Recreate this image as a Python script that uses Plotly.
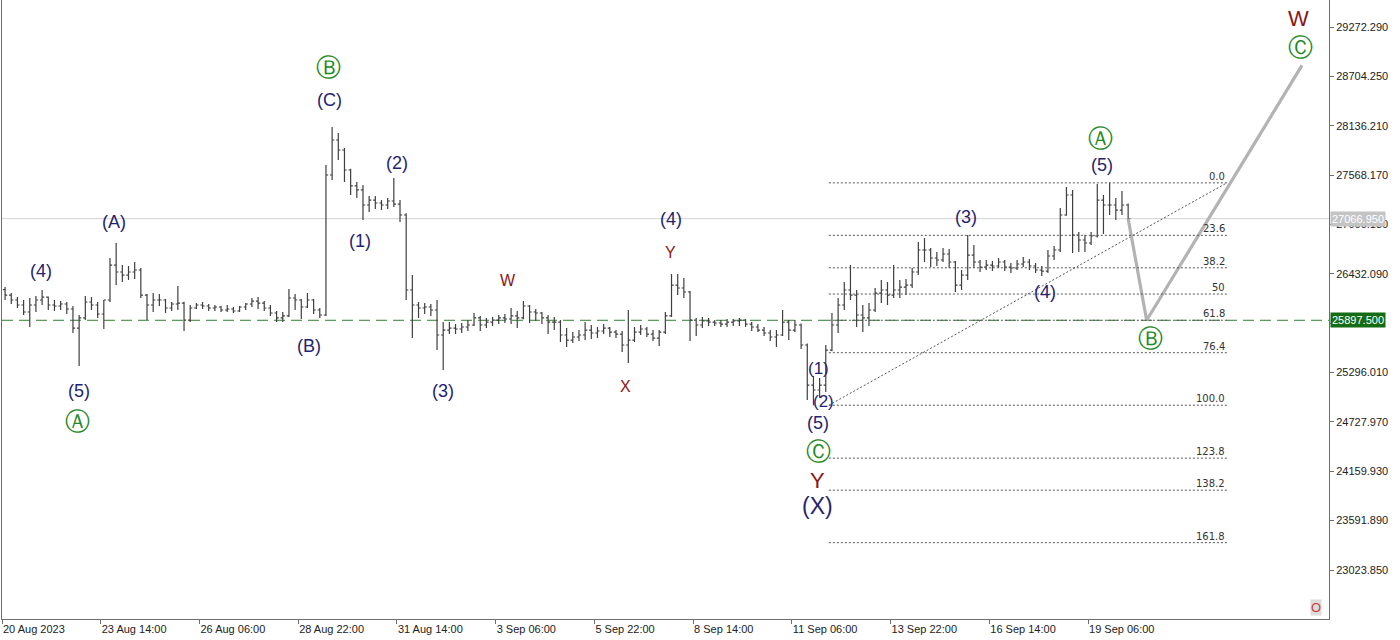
import plotly.graph_objects as go
import pandas as pd

# ---------------- data (BTCUSD, 4h bars) ----------------
bar_start = "2023-08-21 00:00"
first_open = 26250

highs = [26280, 26211, 26165, 26131, 26154, 26177, 26246, 26170, 26131, 26119,
         26108, 26062, 25958, 26177, 26165, 26108, 26131, 26614, 26787, 26533,
         26522, 26568, 26499, 26200, 26211, 26200, 26142, 26108, 26292, 26110,
         26073, 26096, 26108, 26085, 26073, 26062, 26073, 26050, 26062, 26096,
         26154, 26165, 26119, 26073, 26004, 25993, 26257, 26200, 26142, 26211,
         26142, 26039, 27684, 28121, 28052, 27880, 27640, 27489, 27454, 27327,
         27327, 27281, 27304, 27535, 27281, 27130, 26418, 26108, 26096, 26085,
         26131, 25877, 25877, 25854, 25866, 25900, 25981, 25947, 25924, 25935,
         25958, 25970, 26039, 26004, 26119, 26073, 26027, 25993, 25958, 25935,
         25900, 25808, 25762, 25785, 25877, 25843, 25820, 25854, 25820, 25785,
         25774, 26016, 25820, 25843, 25820, 25785, 25785, 25993, 26430, 26430,
         26384, 26235, 25924, 25935, 25924, 25900, 25900, 25912, 25912, 25924,
         25912, 25877, 25854, 25820, 25785, 25785, 26016, 25900, 25900, 25860,
         25630, 25256, 25233, 25613, 25981, 26154, 26338, 26533, 26246, 26073,
         26096, 26269, 26361, 26338, 26533, 26361, 26372, 26499, 26798, 26844,
         26729, 26683, 26729, 26718, 26580, 26476, 26879, 26764, 26591, 26591,
         26579, 26614, 26591, 26556, 26591, 26625, 26602, 26556, 26522, 26706,
         26752, 27189, 27431, 27397, 26913, 26879, 26913, 27466, 27339, 27479,
         27304, 27385, 27240]

lows = [26131, 26085, 26039, 25958, 25820, 25993, 26073, 26016, 26004, 26016,
        25970, 25751, 25371, 25900, 26016, 25924, 25797, 26108, 26303, 26338,
        26361, 26372, 26154, 25900, 25993, 26062, 25981, 26004, 26016, 25774,
        25877, 26027, 26027, 26004, 26004, 25993, 25993, 25981, 25993, 26016,
        26050, 26027, 26004, 25947, 25877, 25877, 25935, 26016, 25912, 26039,
        25970, 25924, 25947, 27512, 27742, 27489, 27339, 27304, 27051, 27143,
        27178, 27166, 27178, 27201, 27028, 26131, 25693, 25924, 25970, 25947,
        25555, 25325, 25739, 25739, 25751, 25774, 25831, 25774, 25808, 25831,
        25854, 25866, 25854, 25808, 25910, 25866, 25889, 25854, 25739, 25785,
        25647, 25590, 25636, 25659, 25670, 25682, 25693, 25739, 25705, 25693,
        25532, 25406, 25647, 25728, 25705, 25659, 25601, 25739, 25935, 26188,
        26154, 25659, 25716, 25808, 25831, 25831, 25820, 25820, 25831, 25831,
        25820, 25774, 25762, 25716, 25659, 25590, 25716, 25670, 25762, 25567,
        24980, 24920, 25003, 25072, 25540, 25751, 26016, 26131, 25820, 25762,
        25831, 25993, 26096, 26073, 26154, 26154, 26188, 26269, 26418, 26568,
        26510, 26522, 26568, 26499, 26223, 26246, 26361, 26499, 26453, 26476,
        26464, 26499, 26464, 26441, 26476, 26510, 26476, 26441, 26407, 26441,
        26591, 26683, 27100, 26671, 26683, 26683, 26764, 26850, 26890, 27109,
        27051, 27109, 27050]

closes = [26188, 26131, 26073, 25993, 26073, 26131, 26165, 26073, 26062, 26085,
          26027, 25808, 25924, 26108, 26073, 25970, 26131, 26533, 26453, 26418,
          26453, 26476, 26188, 26073, 26131, 26131, 26039, 26085, 26096, 25900,
          26039, 26073, 26062, 26039, 26050, 26016, 26027, 26004, 26050, 26085,
          26119, 26096, 26039, 25981, 25924, 25947, 26154, 26131, 26050, 26131,
          26016, 25958, 27569, 27972, 27857, 27627, 27443, 27397, 27224, 27281,
          27247, 27224, 27270, 27235, 27109, 26246, 26073, 26039, 26050, 26016,
          25728, 25785, 25808, 25797, 25820, 25843, 25924, 25843, 25877, 25900,
          25924, 25912, 25947, 25924, 26062, 25993, 25981, 25924, 25877, 25877,
          25728, 25670, 25705, 25728, 25785, 25751, 25774, 25808, 25762, 25739,
          25613, 25670, 25762, 25797, 25739, 25693, 25762, 25947, 26303, 26269,
          26223, 25900, 25843, 25889, 25877, 25866, 25854, 25877, 25889, 25900,
          25854, 25820, 25785, 25751, 25705, 25728, 25877, 25785, 25843, 25613,
          25152, 25095, 25152, 25555, 25843, 26073, 26246, 26188, 25958, 25924,
          26016, 26211, 26246, 26188, 26246, 26280, 26303, 26453, 26706, 26706,
          26614, 26591, 26660, 26568, 26303, 26418, 26648, 26568, 26510, 26533,
          26522, 26568, 26510, 26499, 26545, 26568, 26522, 26476, 26464, 26637,
          26706, 27109, 27339, 26879, 26821, 26787, 26867, 27281, 27224, 27224,
          27166, 27224, 27066.95]

# projected path (grey line): last close -> B -> C
proj_times = ["2023-09-20 08:00", "2023-09-20 20:00", "2023-09-25 00:40"]
proj_prices = [27066.95, 25897.5, 28830]

# Fibonacci tool
fib_start = "2023-09-12 06:00"
fib_end = "2023-09-23 00:00"
fib_low = 24920.0
fib_high = 27478.9
fib_levels = [0.0, 23.6, 38.2, 50, 61.8, 76.4, 100.0, 123.8, 138.2, 161.8]
fib_texts = ["0.0", "23.6", "38.2", "50", "61.8", "76.4", "100.0", "123.8", "138.2", "161.8"]

current_price = 27066.95
level_price = 25897.5

y_tickvals = [23023.85, 23591.89, 24159.93, 24727.97, 25296.01, 25864.05,
              26432.09, 27000.13, 27568.17, 28136.21, 28704.25, 29272.29]
# 25864.050 sits fully under the green price label in the reference
y_ticktext = ["23023.850", "23591.890", "24159.930", "24727.970", "25296.010", "",
              "26432.090", "27000.130", "27568.170", "28136.210", "28704.250", "29272.290"]
x_tickvals = ["2023-08-20 22:00", "2023-08-23 14:00", "2023-08-26 06:00",
              "2023-08-28 22:00", "2023-08-31 14:00", "2023-09-03 06:00",
              "2023-09-05 22:00", "2023-09-08 14:00", "2023-09-11 06:00",
              "2023-09-13 22:00", "2023-09-16 14:00", "2023-09-19 06:00"]
x_ticktext = ["20 Aug 2023", "23 Aug 14:00", "26 Aug 06:00", "28 Aug 22:00",
              "31 Aug 14:00", "3 Sep 06:00", "5 Sep 22:00", "8 Sep 14:00",
              "11 Sep 06:00", "13 Sep 22:00", "16 Sep 14:00", "19 Sep 06:00"]

# ---------------- figure ----------------
times = pd.date_range(bar_start, periods=len(closes), freq="4h")
opens = [first_open] + closes[:-1]

BAR = "#3f3f3f"
NAVY = "#1f2470"
DRED = "#8c1616"
GREEN = "#1f8a1f"
AX = "#6e6e6e"

fig = go.Figure()

fig.add_trace(go.Ohlc(
    x=times, open=opens, high=highs, low=lows, close=closes,
    increasing=dict(line=dict(color=BAR, width=1.2)),
    decreasing=dict(line=dict(color=BAR, width=1.2)),
    tickwidth=0.35, hoverinfo="skip", showlegend=False))

# fib diagonal
fig.add_trace(go.Scatter(
    x=[fib_start, fib_end], y=[fib_low, fib_high], mode="lines",
    line=dict(color="#555555", width=1, dash="2px,2px"),
    hoverinfo="skip", showlegend=False))

# projection
fig.add_trace(go.Scatter(
    x=proj_times, y=proj_prices, mode="lines",
    line=dict(color="#b3b3b3", width=3.2),
    hoverinfo="skip", showlegend=False))

shapes = []
shapes.append(dict(type="line", xref="paper", x0=0, x1=1, yref="y",
                   y0=current_price, y1=current_price,
                   line=dict(color="#d2d2d2", width=1), layer="below"))
shapes.append(dict(type="line", xref="paper", x0=0, x1=1, yref="y",
                   y0=level_price, y1=level_price,
                   line=dict(color="#2f7d2f", width=1, dash="11px,6px"), layer="below"))

annotations = []
rng = fib_high - fib_low
for lvl, txt in zip(fib_levels, fib_texts):
    yv = fib_high - rng * lvl / 100.0
    shapes.append(dict(type="line", xref="x", yref="y", x0=fib_start, x1=fib_end,
                       y0=yv, y1=yv,
                       line=dict(color="#555555", width=1, dash="2px,2px")))
    annotations.append(dict(x=fib_end, y=yv, xref="x", yref="y", text=txt,
                            showarrow=False, xanchor="right", yanchor="bottom",
                            yshift=-1, font=dict(family="DejaVu Sans", size=10, color="#333333")))

# wave labels: (text, px, py, color, size, family)
LS = "Liberation Sans"
DJ = "DejaVu Sans"
CS = 25
waves = [
    ("(4)", 41, 271, NAVY, 18, LS),
    ("(5)", 79, 391, NAVY, 18, LS),
    ("Ⓐ", 77, 421, GREEN, CS, DJ),
    ("(A)", 114, 222, NAVY, 18, LS),
    ("(B)", 309, 346, NAVY, 18, LS),
    ("Ⓑ", 328, 67, GREEN, CS, DJ),
    ("(C)", 329, 100, NAVY, 18, LS),
    ("(1)", 360, 241, NAVY, 18, LS),
    ("(2)", 397, 163, NAVY, 18, LS),
    ("(3)", 443, 391, NAVY, 18, LS),
    ("W", 508, 280, DRED, 16, LS),
    ("(4)", 671, 219, NAVY, 18, LS),
    ("Y", 670, 252, DRED, 16, LS),
    ("X", 625, 386, DRED, 16, LS),
    ("(1)", 818, 368, NAVY, 17, LS),
    ("(2)", 823, 401, NAVY, 17, LS),
    ("(5)", 818, 423, NAVY, 18, LS),
    ("Ⓒ", 818, 451, GREEN, CS, DJ),
    ("Y", 817, 480, DRED, 22, LS),
    ("(X)", 817, 506, NAVY, 23, LS),
    ("(3)", 966, 217, NAVY, 18, LS),
    ("(4)", 1045, 292, NAVY, 18, LS),
    ("Ⓐ", 1100, 138, GREEN, CS, DJ),
    ("(5)", 1102, 165, NAVY, 18, LS),
    ("Ⓑ", 1150, 338, GREEN, CS, DJ),
    ("W", 1298, 19, DRED, 22, LS),
    ("Ⓒ", 1300, 48, GREEN, CS, DJ),
]
PW, PH, PL = 1327.0, 619.0, 2.0
for txt, px, py, col, sz, fam in waves:
    annotations.append(dict(x=(px - PL) / PW, y=1 - py / PH, xref="paper", yref="paper",
                            text=txt, showarrow=False, xanchor="center", yanchor="middle",
                            font=dict(family=fam, size=sz, color=col)))

# price labels on the right scale
annotations.append(dict(x=1, y=current_price, xref="paper", yref="y", text="27066.950",
                        showarrow=False, xanchor="left", yanchor="middle", xshift=1,
                        bgcolor="#c4c4c4", borderpad=1,
                        font=dict(family=LS, size=11, color="#ffffff")))
annotations.append(dict(x=1, y=level_price, xref="paper", yref="y", text="25897.500",
                        showarrow=False, xanchor="left", yanchor="middle", xshift=1,
                        bgcolor="#146c14", borderpad=1,
                        font=dict(family=LS, size=11, color="#ffffff")))
annotations.append(dict(x=(1316 - PL) / PW, y=1 - 607 / PH, xref="paper", yref="paper",
                        text="O", showarrow=False, xanchor="center", yanchor="middle",
                        bgcolor="#dcdcdc", borderpad=0,
                        font=dict(family=LS, size=13, color="#d03a3a")))

fig.update_layout(
    width=1400, height=640,
    margin=dict(l=2, r=71, t=0, b=21),
    paper_bgcolor="white", plot_bgcolor="white",
    showlegend=False, hovermode=False,
    shapes=shapes, annotations=annotations,
    xaxis=dict(type="date", range=["2023-08-20 22:00", "2023-09-25 18:12"],
               rangeslider=dict(visible=False), showgrid=False, zeroline=False,
               showline=True, linecolor=AX, linewidth=1,
               ticks="outside", ticklen=4, tickcolor=AX,
               tickvals=x_tickvals, ticktext=x_ticktext,
               ticklabelposition="outside right",
               tickfont=dict(family=LS, size=11, color="#222222")),
    yaxis=dict(side="right", range=[22460, 29583], showgrid=False, zeroline=False,
               showline=True, mirror=True, linecolor=AX, linewidth=1,
               ticks="outside", ticklen=4, tickcolor=AX,
               tickvals=y_tickvals, ticktext=y_ticktext,
               tickfont=dict(family=LS, size=11, color="#222222")),
)

fig.write_html("out.html", config={"displayModeBar": False},
               post_script="document.body.style.margin='0';")
